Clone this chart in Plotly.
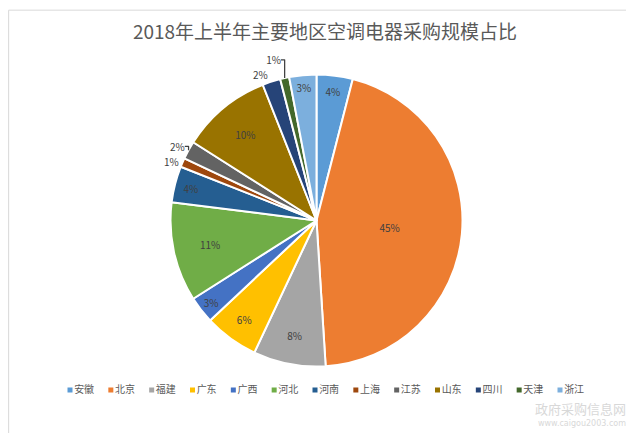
import plotly.graph_objects as go

regions = ["安徽", "北京", "福建", "广东", "广西", "河北", "河南", "上海", "江苏", "山东", "四川", "天津", "浙江"]
shares = [4, 45, 8, 6, 3, 11, 4, 1, 2, 10, 2, 1, 3]
colors = ["#5B9BD5", "#ED7D31", "#A5A5A5", "#FFC000", "#4472C4", "#70AD47", "#255E91",
          "#9E480E", "#636363", "#997300", "#264478", "#43682B", "#7CAFDD"]
label_pos = ["inside", "inside", "inside", "inside", "inside", "inside", "inside",
             "outside", "outside", "inside", "outside", "outside", "inside"]
title_text = "2018年上半年主要地区空调电器采购规模占比"

W, H = 634, 433
cx, cy, r = 308.5, 212.5, 146

fig = go.Figure()
fig.add_trace(go.Pie(
    labels=regions, values=shares, sort=False, direction="clockwise", rotation=0,
    marker=dict(colors=colors, line=dict(color="white", width=2)),
    textinfo="percent", texttemplate="%{percent:.0%}",
    textposition=label_pos, insidetextorientation="horizontal",
    textfont=dict(size=10, color="#404040", family="Noto Sans CJK SC"),
    showlegend=False, hoverinfo="label+percent",
    domain=dict(x=[(cx - r) / W, (cx + r) / W], y=[(H - cy - r) / H, (H - cy + r) / H]),
))

# legend row drawn as a scatter on hidden axes
idx = list(range(len(regions)))
fig.add_trace(go.Scatter(
    x=idx, y=[0] * len(idx), mode="markers+text", text=regions,
    textposition="middle right",
    marker=dict(symbol="square", size=5, color=colors),
    textfont=dict(size=10, color="#595959", family="Noto Sans CJK SC"),
    showlegend=False, hoverinfo="skip", xaxis="x", yaxis="y",
))

px_per = (552 - 62) / 12
r0 = -62 / px_per
r1 = r0 + W / px_per
ly = (H - 382) / H
fig.update_layout(
    width=W, height=H, margin=dict(l=0, r=0, t=0, b=0),
    paper_bgcolor="white", plot_bgcolor="rgba(0,0,0,0)",
    title=dict(text=title_text, x=0.5, xanchor="center", y=1 - 24 / H, yanchor="middle",
               font=dict(size=19, color="#595959", family="Noto Sans CJK SC")),
    xaxis=dict(range=[r0, r1], domain=[0, 1], visible=False, fixedrange=True),
    yaxis=dict(range=[-1, 1], domain=[ly - 0.02, ly + 0.02], visible=False, fixedrange=True),
    uniformtext=dict(minsize=10, mode="show"),
    shapes=[dict(type="rect", xref="paper", yref="paper", x0=0.001, y0=0.001, x1=0.999, y1=0.995,
                 line=dict(color="#D9D9D9", width=1))],
    annotations=[
        dict(text="政府采购信息网", x=620 / W, y=(H - 400) / H, xref="paper", yref="paper",
             xanchor="right", yanchor="middle", showarrow=False,
             font=dict(size=13, color="#D8D8D8", family="Noto Sans CJK SC")),
        dict(text="www.caigou2003.com", x=620 / W, y=(H - 415) / H, xref="paper", yref="paper",
             xanchor="right", yanchor="middle", showarrow=False,
             font=dict(size=8, color="#D8D8D8", family="DejaVu Sans")),
    ],
)

fig.write_html("out.html")
